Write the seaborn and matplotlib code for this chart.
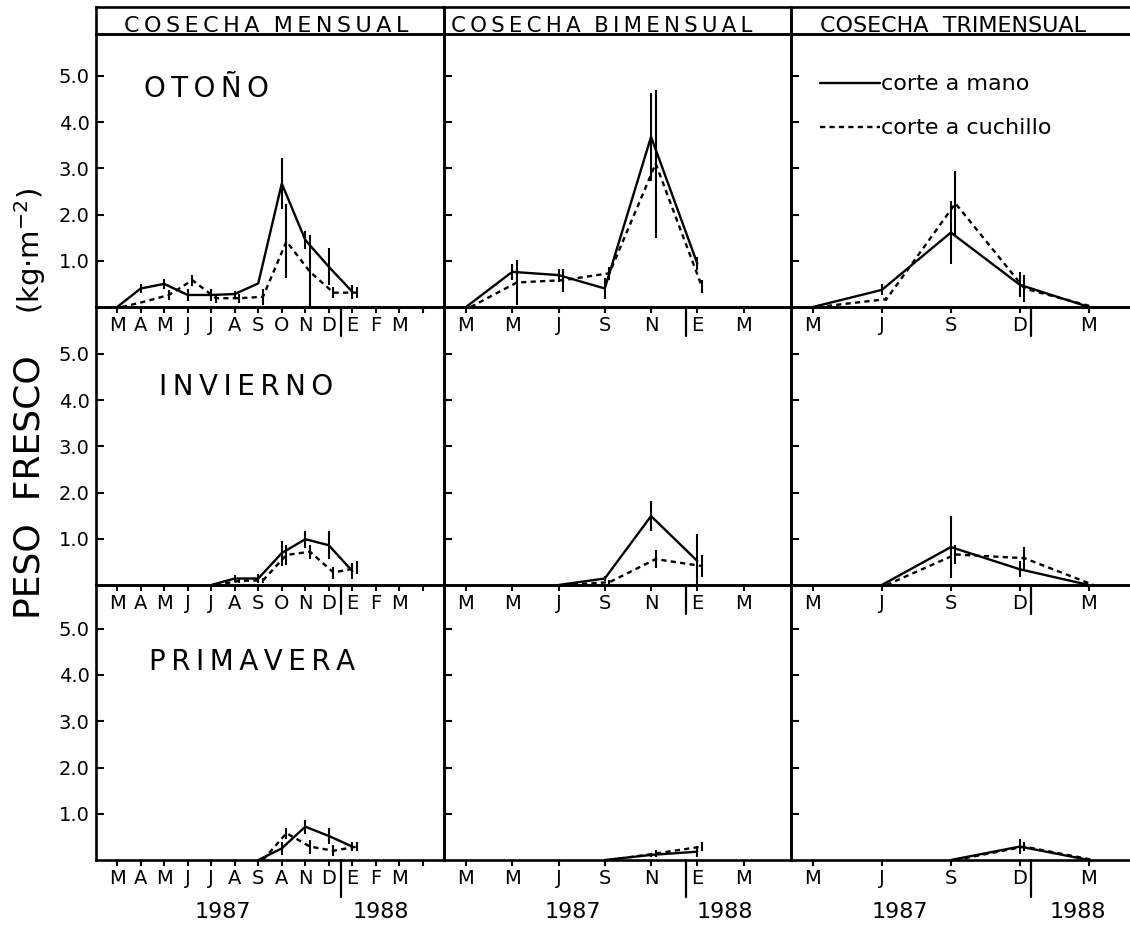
import numpy as np
import pandas as pd
import matplotlib
matplotlib.use("Agg")
import matplotlib.pyplot as plt
from matplotlib.lines import Line2D
import seaborn as sns

# ---------------- categories / labels ----------------
column_titles = ["COSECHA MENSUAL", "COSECHA BIMENSUAL", "COSECHA TRIMENSUAL"]
row_titles = ["OTOÑO", "INVIERNO", "PRIMAVERA"]
methods = ["corte a mano", "corte a cuchillo"]
ylabel_main = "PESO  FRESCO"
ylabel_unit = "(kg\u00b7m$^{-2}$)"
years = ["1987", "1988"]

# month index: 0 = March 1987 ... 10 = January 1988 (E = enero)
ticks_men = list(range(14))
ticks_bim = [0, 2, 4, 6, 8, 10, 12]
ticks_tri = [0, 3, 6, 9, 12]
labels_men = list("MAMJJASONDEFM") + [""]
labels_men_last = list("MAMJJASANDEFM") + [""]
labels_bim = list("MMJSNEM")
labels_tri = list("MJSDM")
yticks = [1, 2, 3, 4, 5]
ytick_labels = ["1.0", "2.0", "3.0", "4.0", "5.0"]

# ---------------- data (kg m-2) ----------------
# OTOÑO
oto_men_mes = [0, 1, 2, 3, 4, 5, 6, 7, 8, 9, 10]
oto_men_mano = [0, 0.40, 0.50, 0.26, 0.26, 0.28, 0.51, 2.67, 1.45, 0.87, 0.33]
oto_men_mano_err = [0, 0.10, 0.10, 0.12, 0.12, 0.06, 0, 0.56, 0.20, 0.40, 0.15]
oto_men_cuch = [0, 0.12, 0.26, 0.58, 0.19, 0.19, 0.22, 1.42, 0.76, 0.31, 0.31]
oto_men_cuch_err = [0, 0, 0.10, 0.12, 0.10, 0.10, 0.18, 0.80, 0.80, 0.12, 0.12]

oto_bim_mes = [0, 2, 4, 6, 8, 10]
oto_bim_mano = [0, 0.76, 0.69, 0.40, 3.68, 0.94]
oto_bim_mano_err = [0, 0.18, 0.14, 0.22, 0.95, 0.15]
oto_bim_cuch = [0, 0.53, 0.58, 0.73, 3.10, 0.44]
oto_bim_cuch_err = [0, 0.49, 0.25, 0.14, 1.60, 0.14]

oto_tri_mes = [0, 3, 6, 9, 12]
oto_tri_mano = [0, 0.37, 1.61, 0.48, 0]
oto_tri_mano_err = [0, 0.12, 0.68, 0.27, 0]
oto_tri_cuch = [0, 0.17, 2.24, 0.40, 0]
oto_tri_cuch_err = [0, 0.05, 0.70, 0.30, 0]

# INVIERNO
inv_men_mes = [4, 5, 6, 7, 8, 9, 10]
inv_men_mano = [0, 0.14, 0.14, 0.69, 0.99, 0.86, 0.30]
inv_men_mano_err = [0, 0.07, 0.10, 0.27, 0.18, 0.30, 0.18]
inv_men_cuch = [0, 0.09, 0.10, 0.65, 0.72, 0.27, 0.37]
inv_men_cuch_err = [0, 0.05, 0.05, 0.22, 0.15, 0.13, 0.14]

inv_bim_mes = [4, 6, 8, 10]
inv_bim_mano = [0, 0.14, 1.49, 0.52]
inv_bim_mano_err = [0, 0.05, 0.33, 0.58]
inv_bim_cuch = [0, 0.06, 0.56, 0.41]
inv_bim_cuch_err = [0, 0.05, 0.20, 0.23]

inv_tri_mes = [3, 6, 9, 12]
inv_tri_mano = [0, 0.82, 0.34, 0]
inv_tri_mano_err = [0, 0.67, 0.17, 0]
inv_tri_cuch = [0, 0.66, 0.58, 0]
inv_tri_cuch_err = [0, 0.20, 0.25, 0]

# PRIMAVERA
pri_men_mes = [6, 7, 8, 9, 10]
pri_men_mano = [0, 0.25, 0.72, 0.52, 0.29]
pri_men_mano_err = [0, 0.15, 0.15, 0.17, 0.10]
pri_men_cuch = [0, 0.58, 0.29, 0.20, 0.29]
pri_men_cuch_err = [0, 0.12, 0.15, 0.12, 0.10]

pri_bim_mes = [6, 8, 10]
pri_bim_mano = [0, 0.11, 0.18]
pri_bim_mano_err = [0, 0.05, 0.12]
pri_bim_cuch = [0, 0.14, 0.29]
pri_bim_cuch_err = [0, 0.08, 0.10]

pri_tri_mes = [6, 9, 12]
pri_tri_mano = [0, 0.29, 0]
pri_tri_mano_err = [0, 0.17, 0]
pri_tri_cuch = [0, 0.29, 0]
pri_tri_cuch_err = [0, 0.10, 0]

panels = [
    [(oto_men_mes, oto_men_mano, oto_men_mano_err, oto_men_cuch, oto_men_cuch_err),
     (oto_bim_mes, oto_bim_mano, oto_bim_mano_err, oto_bim_cuch, oto_bim_cuch_err),
     (oto_tri_mes, oto_tri_mano, oto_tri_mano_err, oto_tri_cuch, oto_tri_cuch_err)],
    [(inv_men_mes, inv_men_mano, inv_men_mano_err, inv_men_cuch, inv_men_cuch_err),
     (inv_bim_mes, inv_bim_mano, inv_bim_mano_err, inv_bim_cuch, inv_bim_cuch_err),
     (inv_tri_mes, inv_tri_mano, inv_tri_mano_err, inv_tri_cuch, inv_tri_cuch_err)],
    [(pri_men_mes, pri_men_mano, pri_men_mano_err, pri_men_cuch, pri_men_cuch_err),
     (pri_bim_mes, pri_bim_mano, pri_bim_mano_err, pri_bim_cuch, pri_bim_cuch_err),
     (pri_tri_mes, pri_tri_mano, pri_tri_mano_err, pri_tri_cuch, pri_tri_cuch_err)],
]

# ---------------- style / layout ----------------
sns.set_theme(style="white")
plt.rcParams["font.family"] = ["DejaVu Sans"]
plt.rcParams["mathtext.fontset"] = "dejavusans"
plt.rcParams["text.color"] = "black"
plt.rcParams["axes.labelcolor"] = "black"
plt.rcParams["xtick.color"] = "black"
plt.rcParams["ytick.color"] = "black"

W, H = 1130, 926
LW = 1.7
ELW = 1.5
SPINE_LW = 1.9
DASH = (2.2, 1.8)
KNIFE_SHIFT = 0.2
PX_PER_UNIT = 46.25
col_x = [(96, 444), (444, 791), (791, 1136)]
row_y = [(34, 307), (307, 585), (585, 860)]
header_y = (7, 34)
xlims = [(-0.9, 13.9), (-0.95, 14.05), (-0.95, 14.05)]
year_sep = 9.5
year_pos = [(4.5, 11.2), (4.6, 11.2), (3.8, 11.5)]
title_pos = [(0.316, 0.80), (0.431, 0.712), (0.448, 0.72)]
header_cx = [0.49, 0.455, 0.47]
header_track = [True, True, False]
header_size = [16, 15.3, 16]

THIN = "\u2009"


def spaced(text, track=True, gap="  "):
    if not track:
        return gap.join(text.split())
    return gap.join(THIN.join(w) for w in text.split())


fig = plt.figure(figsize=(W / 100, H / 100), dpi=100)
fig.patch.set_facecolor("white")


def add_ax(x0, x1, y0, y1):
    return fig.add_axes([x0 / W, 1 - y1 / H, (x1 - x0) / W, (y1 - y0) / H])


def draw_panel(ax, mes, mano, mano_err, cuch, cuch_err):
    mes = np.asarray(mes, float)
    df = pd.DataFrame({
        "mes": np.concatenate([mes, mes + KNIFE_SHIFT]),
        "peso": np.concatenate([mano, cuch]),
        "err": np.concatenate([mano_err, cuch_err]),
        "metodo": [methods[0]] * len(mes) + [methods[1]] * len(mes),
    })
    sns.lineplot(data=df, x="mes", y="peso", style="metodo", style_order=methods,
                 dashes={methods[0]: "", methods[1]: DASH}, color="black",
                 linewidth=LW, legend=False, estimator=None, ax=ax)
    e = df[df["err"] > 0]
    ax.vlines(e["mes"], e["peso"] - e["err"], e["peso"] + e["err"],
              color="black", lw=ELW)


tick_sets = [ticks_men, ticks_bim, ticks_tri]

for r in range(3):
    y0, y1 = row_y[r]
    for c in range(3):
        x0, x1 = col_x[c]
        ax = add_ax(x0, x1, y0, y1)
        ax.set_facecolor("none")
        draw_panel(ax, *panels[r][c])
        ax.set_xlim(*xlims[c])
        ax.set_ylim(0, (y1 - y0) / PX_PER_UNIT)
        ax.set_xlabel("")
        ax.set_ylabel("")
        for s in ax.spines.values():
            s.set_visible(True)
            s.set_linewidth(SPINE_LW)
            s.set_color("black")
        ax.set_yticks(yticks)
        ax.set_yticklabels(ytick_labels)
        ax.tick_params(axis="y", direction="in", length=5.5, width=1.5, left=True,
                       right=False, labelleft=(c == 0), pad=4.5, labelsize=14,
                       colors="black")
        ax.set_xticks(tick_sets[c])
        if c == 0:
            ax.set_xticklabels(labels_men_last if r == 2 else labels_men)
        elif c == 1:
            ax.set_xticklabels(labels_bim)
        else:
            ax.set_xticklabels(labels_tri)
        ax.tick_params(axis="x", direction="out", length=4.5, width=1.5, bottom=True,
                       top=False, pad=2, labelsize=14, colors="black")
        # year boundary mark under the axis
        sep_px = 37 if r == 2 else 29
        ax.plot([year_sep, year_sep], [0, -sep_px / (y1 - y0)], color="black", lw=1.6,
                transform=ax.get_xaxis_transform(), clip_on=False)
        if r == 2:
            for yr, xp in zip(years, year_pos[c]):
                ax.text(xp, -52 / (y1 - y0), yr, transform=ax.get_xaxis_transform(),
                        ha="center", va="center", fontsize=16, color="black")
        if c == 0:
            tx, ty = title_pos[r]
            ax.text(tx, ty, THIN.join(row_titles[r]), transform=ax.transAxes,
                    ha="center", va="center", fontsize=20, color="black")
        if r == 0 and c == 2:
            handles = [Line2D([], [], color="black", lw=LW),
                       Line2D([], [], color="black", lw=LW, dashes=DASH)]
            leg = ax.legend(handles, methods, loc="upper left",
                            bbox_to_anchor=(0.085, 0.852), frameon=False,
                            handlelength=2.7, handletextpad=0.05,
                            labelspacing=1.08, fontsize=16, borderpad=0,
                            borderaxespad=0)
            for t in leg.get_texts():
                t.set_color("black")

# header band
for c in range(3):
    x0, x1 = col_x[c]
    hx = add_ax(x0, x1, header_y[0], header_y[1])
    hx.set_facecolor("none")
    hx.set_xticks([])
    hx.set_yticks([])
    for s in hx.spines.values():
        s.set_visible(True)
        s.set_linewidth(SPINE_LW)
        s.set_color("black")
    hx.text(header_cx[c], 0.08, spaced(column_titles[c], header_track[c]),
            transform=hx.transAxes, ha="center", va="baseline",
            fontsize=header_size[c], color="black")

# y axis label
fig.text(30 / W, 1 - 487 / H, ylabel_main, rotation=90, ha="center", va="center",
         fontsize=26, color="black")
fig.text(30 / W, 1 - 251 / H, ylabel_unit, rotation=90, ha="center", va="center",
         fontsize=21, color="black")

fig.savefig("out.png", dpi=100, facecolor="white")
